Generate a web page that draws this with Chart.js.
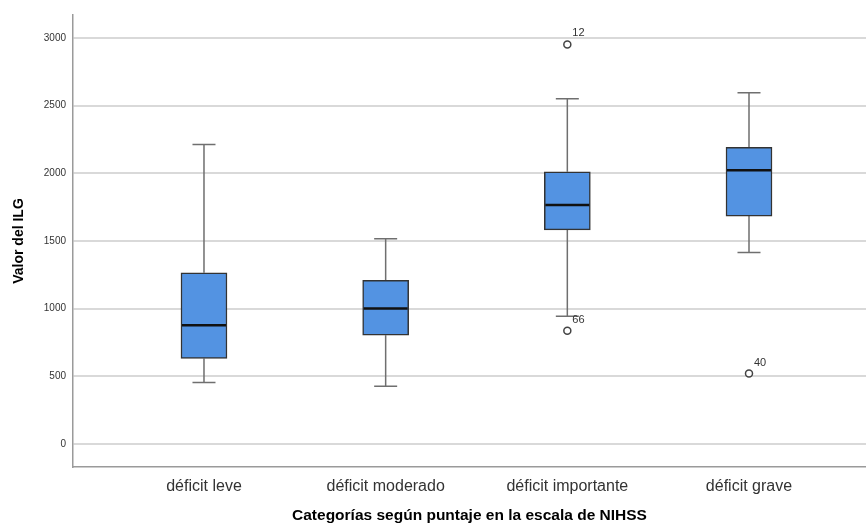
<!DOCTYPE html>
<html>
<head>
<meta charset="utf-8">
<script src="https://cdn.jsdelivr.net/npm/chart.js@4/dist/chart.umd.min.js"></script>
<style>
  html, body { margin: 0; padding: 0; background: #fff; }
  #wrap { width: 866px; height: 525px; }
</style>
</head>
<body>
<div id="wrap"><canvas id="c" width="866" height="525"></canvas></div>
<script>
// NIHSS severity groups
const categories = ['déficit leve', 'déficit moderado', 'déficit importante', 'déficit grave'];
// Box-plot statistics of ILG per group
const whiskerLow  = [456, 428, 945, 1415];
const q1          = [633, 805, 1582, 1684];
const median      = [879, 1002, 1765, 2023];
const q3          = [1265, 1209, 2011, 2191];
const whiskerHigh = [2213, 1516, 2550, 2594];
// Outlying cases: group index, value, case number
const outlierGroup = [2, 2, 3];
const outlierValue = [2951, 837, 522];
const outlierCase  = ['12', '66', '40'];
const yTicks = [0, 500, 1000, 1500, 2000, 2500, 3000];

const FONT = "'Liberation Sans', Arial, sans-serif";
const BOX_W = 46;

const boxData = categories.map((c, i) => ({ x: i + 1, y: [q1[i], q3[i]] }));
const outlierData = outlierValue.map((v, k) => ({ x: outlierGroup[k] + 1, y: v }));

const boxExtras = {
  id: 'boxExtras',
  beforeDatasetsDraw(chart) {
    const { ctx, scales: { x, y } } = chart;
    ctx.save();
    ctx.strokeStyle = '#6f6f6f';
    ctx.lineWidth = 1.5;
    categories.forEach((c, i) => {
      const cx = x.getPixelForValue(i + 1);
      const yLo = y.getPixelForValue(whiskerLow[i]);
      const yHi = y.getPixelForValue(whiskerHigh[i]);
      const yQ1 = y.getPixelForValue(q1[i]);
      const yQ3 = y.getPixelForValue(q3[i]);
      const half = BOX_W / 4;
      ctx.beginPath();
      ctx.moveTo(cx, yQ1); ctx.lineTo(cx, yLo);
      ctx.moveTo(cx, yQ3); ctx.lineTo(cx, yHi);
      ctx.moveTo(cx - half, yLo); ctx.lineTo(cx + half, yLo);
      ctx.moveTo(cx - half, yHi); ctx.lineTo(cx + half, yHi);
      ctx.stroke();
    });
    ctx.restore();
  },
  afterDatasetsDraw(chart) {
    const { ctx, scales: { x, y } } = chart;
    ctx.save();
    ctx.strokeStyle = '#111';
    ctx.lineWidth = 2.5;
    categories.forEach((c, i) => {
      const cx = x.getPixelForValue(i + 1);
      const ym = y.getPixelForValue(median[i]);
      ctx.beginPath();
      ctx.moveTo(cx - BOX_W / 2 + 1, ym);
      ctx.lineTo(cx + BOX_W / 2 - 1, ym);
      ctx.stroke();
    });
    ctx.fillStyle = '#333';
    ctx.font = '11px ' + FONT;
    ctx.textAlign = 'left';
    ctx.textBaseline = 'middle';
    outlierValue.forEach((v, k) => {
      const px = x.getPixelForValue(outlierGroup[k] + 1);
      const py = y.getPixelForValue(v);
      ctx.fillText(outlierCase[k], px + 5, py - 11);
    });
    ctx.restore();
  }
};

new Chart(document.getElementById('c'), {
  type: 'bar',
  data: {
    datasets: [
      {
        data: boxData,
        backgroundColor: '#5393e2',
        borderColor: '#333333',
        borderWidth: 1.5,
        borderSkipped: false,
        barThickness: BOX_W,
        order: 2
      },
      {
        type: 'scatter',
        data: outlierData,
        pointStyle: 'circle',
        radius: 3.5,
        borderWidth: 1.5,
        backgroundColor: '#ffffff',
        borderColor: '#444444',
        order: 1
      }
    ]
  },
  options: {
    responsive: false,
    animation: false,
    layout: { autoPadding: false, padding: { top: 15, right: 0, left: 0, bottom: 0 } },
    plugins: { legend: { display: false }, tooltip: { enabled: false } },
    scales: {
      x: {
        type: 'linear',
        offset: false,
        min: 0.279,
        max: 4.644,
        grid: { display: false, drawTicks: false, offset: false },
        border: { display: true, color: '#9a9a9a', width: 1.5 },
        afterBuildTicks: (s) => { s.ticks = categories.map((c, i) => ({ value: i + 1 })); },
        afterFit: (s) => { s.height = 58; },
        ticks: {
          autoSkip: false,
          maxRotation: 0,
          padding: 10,
          color: '#333',
          font: { family: FONT, size: 16 },
          callback: (v) => categories[v - 1]
        },
        title: {
          display: true,
          text: 'Categorías según puntaje en la escala de NIHSS',
          color: '#000',
          font: { family: FONT, size: 15.5, weight: 'bold' },
          padding: { top: 0, bottom: 0 }
        }
      },
      y: {
        min: -168,
        max: 3168,
        grid: { color: '#d9d9d9', lineWidth: 2, drawTicks: false },
        border: { display: true, color: '#9a9a9a', width: 1.5 },
        afterBuildTicks: (s) => { s.ticks = yTicks.map(v => ({ value: v })); },
        afterFit: (s) => { s.width = 73; },
        ticks: {
          padding: 7,
          color: '#333',
          font: { family: FONT, size: 10 },
          callback: (v) => String(v)
        },
        title: {
          display: true,
          text: 'Valor del ILG',
          color: '#000',
          font: { family: FONT, size: 14, weight: 'bold' },
          padding: { top: 11, bottom: 0 }
        }
      }
    }
  },
  plugins: [boxExtras]
});
</script>
</body>
</html>
